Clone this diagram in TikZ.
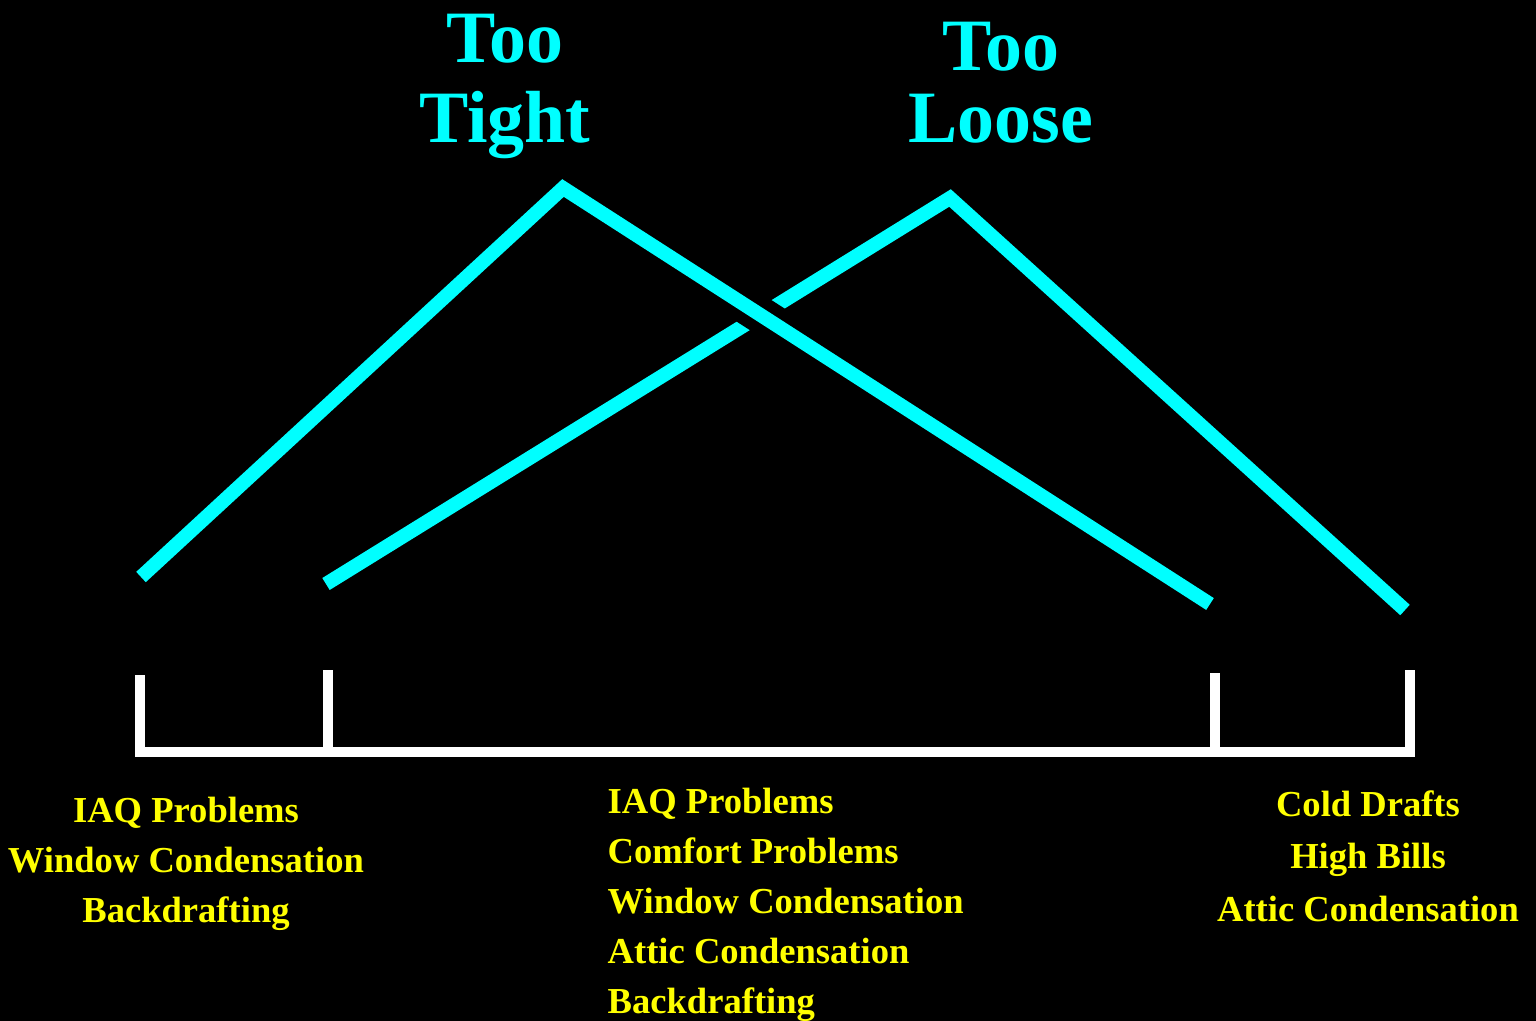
\documentclass[tikz,border=0pt]{standalone}
\usepackage{fontspec}
\setmainfont{Liberation Serif}
\usetikzlibrary{positioning}
\definecolor{aqua}{RGB}{0,255,255}
\definecolor{canary}{RGB}{255,255,0}
\tikzset{
	ttl/.style = {aqua, align=center, inner sep=0pt, anchor=base,
		font=\fontsize{21}{23}\selectfont\bfseries},% titles
	lst/.style = {canary, inner sep=0pt, anchor=base,
		font=\fontsize{10.4}{14.2}\selectfont\bfseries},% effect lists
	crv/.style = {aqua, line width=4pt},% curves
	brk/.style = {white, line width=3.1pt}% bracket
}

\begin{document}
\begin{tikzpicture}[x=0.01cm, y=-0.01cm]
	\useasboundingbox (0,0) rectangle (1536,1021);
	\fill[black] (0,0) rectangle (1536,1021);
	% titles (base = last line)
	\node [ttl] (ttl_t) at (505,143) {Too\\Tight};
	\node [ttl] (ttl_l) at (1001,143) {Too\\[-2.3pt]Loose};
	% curves
	\coordinate (t_l) at (141,577);
	\coordinate (t_top) at (563,188);
	\coordinate (t_r) at (1210,604);
	\coordinate (l_l) at (326,584);
	\coordinate (l_top) at (950,198);
	\coordinate (l_r) at (1405,610);
	\draw [crv] (l_l) -- (l_top) -- (l_r);
	\draw [crv, preaction={draw, black, line width=10.5pt}] (t_l) -- (t_top) -- (t_r);
	% bracket
	\coordinate (bot) at (0,752);
	\coordinate (b1) at (140,675);
	\coordinate (b2) at (328,670);
	\coordinate (b3) at (1215,673);
	\coordinate (b4) at (1410,670);
	\draw [brk] (b1) -- (b1 |- bot) -- (b4 |- bot) -- (b4);
	\foreach \b in {b2,b3}
		\draw [brk] (\b) -- (\b |- bot);
	% effects
	\node [lst, align=center] (lst_t) at (186,922)
		{IAQ Problems\\Window Condensation\\Backdrafting};
	\node [lst, align=left, anchor=base west] (lst_m) at (607,1013)
		{IAQ Problems\\Comfort Problems\\Window Condensation\\Attic Condensation\\Backdrafting};
	\node [lst, align=center] (lst_l) at (1368,921)
		{Cold Drafts\\[0.7pt]High Bills\\[0.7pt]Attic Condensation};
\end{tikzpicture}
\end{document}
